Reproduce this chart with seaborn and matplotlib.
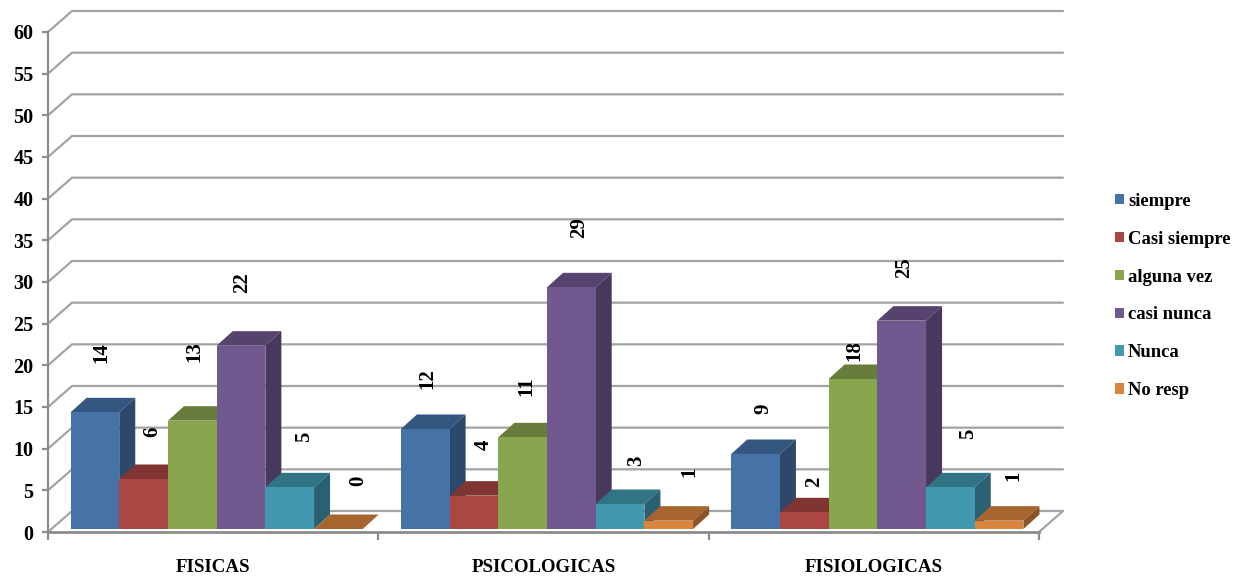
import matplotlib
matplotlib.use("Agg")
import matplotlib.pyplot as plt
from matplotlib.colors import to_rgb
from matplotlib.patches import Patch, Polygon
import pandas as pd
import seaborn as sns

# Survey counts per response, one list per symptom group
categorias = ["FISICAS", "PSICOLOGICAS", "FISIOLOGICAS"]
respuestas = ["siempre", "Casi siempre", "alguna vez", "casi nunca", "Nunca", "No resp"]
siempre = [14, 12, 9]
casi_siempre = [6, 4, 2]
alguna_vez = [13, 11, 18]
casi_nunca = [22, 29, 25]
nunca = [5, 3, 5]
no_resp = [0, 1, 1]
colores = ["#4572A7", "#AA4643", "#89A54E", "#71588F", "#4198AF", "#DB843D"]
marcas_y = list(range(0, 61, 5))

# Nudges of the rotated value labels from the centre of each bar's top, in pixels
ajuste_x = [[5, 7, 1, 0, 13, 18], [1, 8, 2, 6, 15, 19], [6, 8, 0, 1, 16, 13]]
ajuste_y = [[58, 46, 68, 62, 49, 47], [49, 49, 50, 58, 42, 47], [44, 29, 27, 52, 52, 43]]

W, H = 1250, 579
LEFT, RIGHT, Y0, Y60 = 48, 1039, 532, 32
px_x = (RIGHT - LEFT) / 3          # pixels per category
px_y = (Y0 - Y60) / 60             # pixels per unit of value

series = [siempre, casi_siempre, alguna_vez, casi_nunca, nunca, no_resp]
df = pd.DataFrame(
    [
        {"categoria": c, "respuesta": r, "valor": serie[i]}
        for r, serie in zip(respuestas, series)
        for i, c in enumerate(categorias)
    ]
)

sns.set_theme(style="white")
plt.rcParams["font.family"] = ["Liberation Serif", "DejaVu Serif"]
plt.rcParams["font.weight"] = "bold"

fig = plt.figure(figsize=(W / 100, H / 100), dpi=100, facecolor="white")
ax = fig.add_axes(
    [LEFT / W, (H - Y0) / H, (RIGHT - LEFT) / W, (Y0 - Y60) / H], facecolor="none"
)

sns.barplot(
    data=df, x="categoria", y="valor", hue="respuesta",
    order=categorias, hue_order=respuestas, palette=colores,
    width=6 * 48.7 / px_x, gap=0, saturation=1, legend=False,
    linewidth=0, ax=ax,
)
ax.set_xlim(-0.5, 2.5)
ax.set_ylim(0, 60)
ax.set_xlabel("")
ax.set_ylabel("")

# Wall and floor depth, bar depth and the small set-back of bars from the front edge
wall_dx, wall_dy = 24 / px_x, 21 / px_y
bar_dx, bar_dy = 16 / px_x, 14.5 / px_y
shift_x, lift_y = 3.5 / px_x, 3 / px_y

GRID = "#a3a3a3"
for v in marcas_y:
    ax.plot([-0.5, -0.5 + wall_dx, 2.5 + wall_dx], [v, v + wall_dy, v + wall_dy],
            color=GRID, lw=1.6, clip_on=False, zorder=1, solid_joinstyle="miter")
ax.plot([2.5, 2.5 + wall_dx], [0, wall_dy], color=GRID, lw=1.6, clip_on=False, zorder=1)


def shade(color, k):
    return tuple(c * k for c in to_rgb(color))


# Extrude each front face; later bars paint over the sides of earlier ones
for s, container in enumerate(ax.containers):
    for g, bar in enumerate(container):
        bar.set_x(bar.get_x() + shift_x)
        bar.set_y(lift_y)
        x0, w, h = bar.get_x(), bar.get_width(), bar.get_height()
        x1, y0, y1 = x0 + w, lift_y, lift_y + h
        z = 3 + s * 3
        top = Polygon([(x0, y1), (x1, y1), (x1 + bar_dx, y1 + bar_dy), (x0 + bar_dx, y1 + bar_dy)],
                      closed=True, fc=shade(colores[s], 0.76), ec="none", zorder=z, clip_on=False)
        side = Polygon([(x1, y0), (x1, y1), (x1 + bar_dx, y1 + bar_dy), (x1 + bar_dx, y0 + bar_dy)],
                       closed=True, fc=shade(colores[s], 0.64), ec="none", zorder=z, clip_on=False)
        ax.add_patch(top)
        ax.add_patch(side)
        bar.set_zorder(z + 1)
        ax.annotate(
            str(series[s][g]),
            xy=(x0 + w / 2, y1),
            xytext=((ajuste_x[g][s] + 1.5) * 0.72, (ajuste_y[g][s] + 1.5) * 0.72),
            textcoords="offset points", rotation=90, ha="center", va="center",
            fontsize=15, color="black", zorder=30, annotation_clip=False,
        )

sns.despine(ax=ax, top=True, right=True)
ax.spines["left"].set_linewidth(1.6)
ax.spines["bottom"].set_linewidth(2.0)
for name in ("left", "bottom"):
    ax.spines[name].set_color("#8c8c8c")
    ax.spines[name].set_zorder(2)

ax.set_yticks(marcas_y)
ax.set_xticks([-0.5, 0.5, 1.5, 2.5], minor=False, labels=["", "", "", ""])
ax.tick_params(axis="y", length=4.5, width=1.6, color="#8c8c8c", labelsize=14.5, pad=6, left=True,
               labelcolor="black")
ax.tick_params(axis="x", length=5.5, width=1.6, color="#8c8c8c", bottom=True)
for i, c in enumerate(categorias):
    ax.text(i, -4.3, c, ha="center", va="center", fontsize=13.6, color="black",
            fontweight="bold", clip_on=False)
for label in ax.get_yticklabels():
    label.set_fontweight("bold")

handles = [Patch(fc=c, ec="none", label=r) for c, r in zip(colores, respuestas)]
fig.legend(
    handles=handles, loc="center left", bbox_to_anchor=(1106 / W, 1 - 296 / H),
    frameon=False, fontsize=13.4, handlelength=0.48, handleheight=0.48,
    handletextpad=0.2, labelspacing=1.12, borderpad=0, labelcolor="black",
)

fig.savefig("out.png", dpi=100, facecolor="white")
